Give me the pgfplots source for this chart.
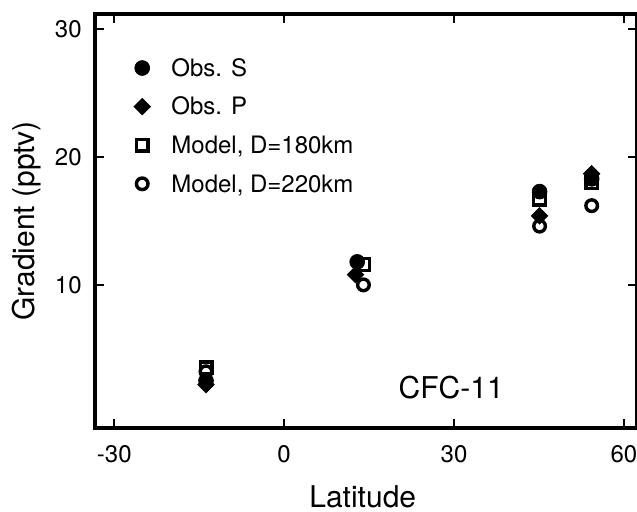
\documentclass[border=0pt]{standalone}
\usepackage{pgfplots}
\pgfplotsset{compat=1.18}
\usepackage{fontspec}
\setmainfont{TeX Gyre Heros}
\pgfplotsset{mylegend/.style={legend image code/.code={\draw[##1] plot coordinates {(0pt,1pt)};}}}
\begin{document}
\begin{tikzpicture}
\begin{axis}[
  scale only axis,
  width=271pt, height=207pt,
  xmin=-33.4, xmax=62.3,
  ymin=-1.2, ymax=31.2,
  xtick={-30,0,30,60},
  ytick={10,20,30},
  tick pos=both,
  tick align=inside,
  major tick length=4.5pt,
  tick style={line width=1pt, black},
  axis line style={line width=2pt},
  /pgf/number format/assume math mode=true,
  ticklabel style={font=\fontsize{12}{14}\selectfont},
  yticklabel style={inner sep=0pt, xshift=-6.5pt},
  xticklabel style={inner sep=0pt, yshift=-8.5pt},
  xlabel={Latitude},
  ylabel={Gradient (pptv)},
  label style={font=\fontsize{15}{18}\selectfont},
  xlabel style={at={(axis description cs:0.494,-0.193)}, anchor=base},
  ylabel style={at={(axis description cs:-0.112,0.5)}, anchor=base},
  legend style={draw=none, fill=none, inner sep=0pt, outer sep=0pt,
    at={(axis description cs:0.072,0.892)}, anchor=north west,
    font=\fontsize{12}{14}\selectfont,
    nodes={inner sep=0pt, text height=8.8pt, text depth=2.5pt},
    row sep=8pt,
    /tikz/every odd column/.append style={column sep=10.5pt}},
  legend cell align=left,
]
\addplot[only marks, mark=*, mark size=3.7pt, black, mylegend]
  coordinates {(-13.8,2.5) (12.9,11.8) (45.1,17.3) (54.3,18.3)};
\addlegendentry{Obs. S}
\addplot[only marks, mark=square*, mark size=2.9pt, mark options={rotate=45}, black, mylegend]
  coordinates {(-13.8,2.2) (12.6,10.8) (45.1,15.4) (54.3,18.7)};
\addlegendentry{Obs. P}
\addplot[only marks, mark=square, mark size=2.9pt, mark options={line width=1.7pt}, black, mylegend]
  coordinates {(-13.8,3.5) (14.0,11.6) (45.1,16.7) (54.3,18.0)};
\addlegendentry{Model, D=180km}
\addplot[only marks, mark=o, mark size=2.9pt, mark options={line width=1.7pt}, black, mylegend]
  coordinates {(-13.8,3.2) (14.0,10.0) (45.1,14.6) (54.3,16.2)};
\addlegendentry{Model, D=220km}
\node[font=\fontsize{15}{18}\selectfont] at (axis cs:29.5,1.94) {CFC-11};
\coordinate (SW) at (rel axis cs:0,0);
\coordinate (NE) at (rel axis cs:1,1);
\end{axis}
\pgfresetboundingbox
\path ([shift={(-47.5pt,-42pt)}]SW) rectangle ([shift={(0pt,7pt)}]NE);
\end{tikzpicture}
\end{document}
